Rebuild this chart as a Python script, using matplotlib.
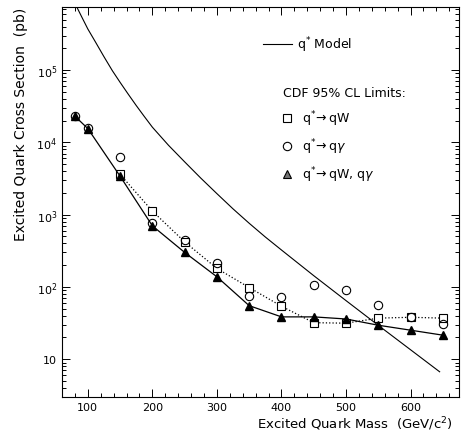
import numpy as np
import matplotlib
matplotlib.use("Agg")
import matplotlib.pyplot as plt
from matplotlib.ticker import FixedLocator, LogLocator, NullFormatter, MultipleLocator

plt.rcParams['font.family'] = ['DejaVu Sans']
plt.rcParams['mathtext.fontset'] = 'dejavusans'

# q* model curve
model_mass = [80, 90, 100, 112, 125, 138, 150, 162, 175, 187, 200, 225, 250, 275, 300,
              325, 350, 375, 400, 450, 500, 550, 600, 645]
model_xs = [8.4e5, 5.56e5, 3.7e5, 2.43e5, 1.53e5, 9.8e4, 6.76e4, 4.72e4, 3.23e4, 2.31e4,
            1.62e4, 9.1e3, 5.37e3, 3.2e3, 1.95e3, 1.2e3, 759, 490, 324, 143, 64.6,
            29.4, 13.5, 6.7]

# q* -> qW limits
qw_mass = [150, 200, 250, 300, 350, 400, 450, 500, 550, 600, 650]
qw_xs = [3.6e3, 1.12e3, 420, 180, 98, 54, 32, 31.5, 37, 38, 37]

# q* -> q gamma limits
qg_mass = [80, 100, 150, 200, 250, 300, 350, 400, 450, 500, 550, 600, 650]
qg_xs = [2.3e4, 1.58e4, 6.3e3, 760, 440, 215, 76, 72, 105, 90, 57, 38.5, 30.5]

# combined limits
comb_mass = [80, 100, 150, 200, 250, 300, 350, 400, 450, 500, 550, 600, 650]
comb_xs = [2.3e4, 1.55e4, 3.4e3, 700, 300, 138, 55, 38.5, 38.5, 36, 29.5, 25.2, 21.5]

fig = plt.figure(figsize=(4.61, 4.39), dpi=100)
ax = fig.add_axes([62/461, 41/439, 397/461, 390/439])

ax.plot(model_mass, model_xs, color='black', lw=0.8)
ax.plot(qw_mass, qw_xs, color='black', lw=0.9, ls=':', marker='s', ms=6,
        mfc='white', mec='black', mew=0.8)
ax.plot(qg_mass, qg_xs, ls='none', marker='o', ms=6, mfc='none', mec='black', mew=0.8)
ax.plot(comb_mass, comb_xs, color='black', lw=0.9, marker='^', ms=5.5,
        mfc='black', mec='black')

ax.set_yscale('log')
ax.set_xlim(60, 675)
ax.set_ylim(3, 7.45e5)

ax.xaxis.set_major_locator(FixedLocator([100, 200, 300, 400, 500, 600]))
ax.xaxis.set_minor_locator(MultipleLocator(20))
ax.yaxis.set_major_locator(FixedLocator([10, 1e2, 1e3, 1e4, 1e5]))
ax.yaxis.set_minor_locator(LogLocator(base=10, subs=np.arange(2, 10)))
ax.yaxis.set_minor_formatter(NullFormatter())
ax.set_yticklabels(['10', '$10^{2}$', '$10^{3}$', '$10^{4}$', '$10^{5}$'])

ax.tick_params(which='both', direction='in', top=True, right=True, labelsize=8, width=0.7)
ax.tick_params(which='major', length=6)
ax.tick_params(which='minor', length=3)
for s in ax.spines.values():
    s.set_linewidth(0.8)

ax.set_xlabel('Excited Quark Mass  (GeV/c$^{2}$)', fontsize=9.5, ha='right', va='center')
ax.xaxis.set_label_coords(0.985, -0.066)
ax.set_ylabel('Excited Quark Cross Section  (pb)', fontsize=10, loc='top', labelpad=6)

# legend drawn by hand
tr = ax.transAxes
ax.plot([0.506, 0.579], [0.905, 0.905], color='black', lw=0.8, transform=tr)
ax.text(0.592, 0.905, 'q$^{*}$ Model', transform=tr, fontsize=9, va='center')
ax.text(0.557, 0.782, 'CDF 95% CL Limits:', transform=tr, fontsize=9, va='center')
ax.plot([0.567], [0.715], marker='s', ms=6, mfc='white', mec='black', mew=0.8, transform=tr)
ax.text(0.605, 0.715, r'q$^{*}\!\rightarrow$qW', transform=tr, fontsize=9, va='center')
ax.plot([0.567], [0.644], marker='o', ms=6, mfc='none', mec='black', mew=0.8, transform=tr)
ax.text(0.605, 0.644, r'q$^{*}\!\rightarrow$q$\gamma$', transform=tr, fontsize=9, va='center')
ax.plot([0.567], [0.572], marker='^', ms=6, mfc='0.45', mec='black', mew=0.8, transform=tr)
ax.text(0.605, 0.572, r'q$^{*}\!\rightarrow$qW, q$\gamma$', transform=tr, fontsize=9, va='center')

fig.savefig('out.png', dpi=100)
